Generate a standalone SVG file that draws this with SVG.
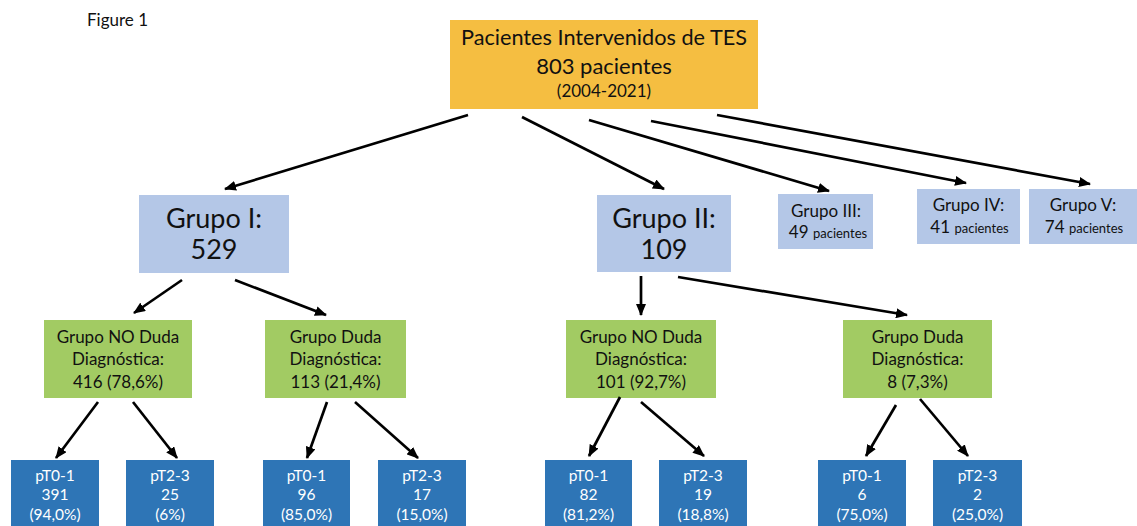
<svg xmlns="http://www.w3.org/2000/svg" width="1137" height="526" viewBox="0 0 1137 526">
  <style>
    text { font-family: Lato, "Open Sans", "Liberation Sans", sans-serif; fill: #111; text-anchor: middle; }
    .top { fill: #F5BE41; }
    .grp { fill: #B4C7E7; }
    .sub { fill: #A2CB63; }
    .leaf { fill: #2E75B6; }
    .leaf text { fill: #fff; font-size: 15.5px; }
    .sub text { font-size: 17px; }
    .big { font-size: 27px; }
    .mid { font-size: 17px; }
    .sm { font-size: 13px; }
    .conn line { stroke: #000; stroke-width: 2.7; marker-end: url(#arrow); }
  </style>
  <defs>
    <marker id="arrow" viewBox="0 0 12 10" refX="11" refY="5" markerWidth="12" markerHeight="10" markerUnits="userSpaceOnUse" orient="auto">
      <path d="M0,0 L12,5 L0,10 z" fill="#000"/>
    </marker>
  </defs>
  <rect width="1137" height="526" fill="#fff"/>

  <text x="87" y="26" style="text-anchor:start;font-size:17px">Figure 1</text>

  <!-- root -->
  <g id="root">
    <rect class="top" x="450" y="20" width="308" height="89"/>
    <text x="604" y="45" style="font-size:21.7px">Pacientes Intervenidos de TES</text>
    <text x="604" y="74" style="font-size:22px">803 pacientes</text>
    <text x="604" y="97" style="font-size:17px">(2004-2021)</text>
  </g>

  <!-- first level groups -->
  <g id="grupo-1">
    <rect class="grp" x="139" y="195" width="150" height="78"/>
    <text class="big" x="214" y="228">Grupo I:</text>
    <text class="big" x="214" y="259">529</text>
  </g>
  <g id="grupo-2">
    <rect class="grp" x="597" y="195" width="134" height="77"/>
    <text class="big" x="664" y="228">Grupo II:</text>
    <text class="big" x="664" y="259">109</text>
  </g>
  <g id="grupo-3">
    <rect class="grp" x="778" y="194" width="95" height="55"/>
    <text class="mid" x="826" y="217">Grupo III:</text>
    <text class="mid" x="828" y="238">49 <tspan class="sm">pacientes</tspan></text>
  </g>
  <g id="grupo-4">
    <rect class="grp" x="917" y="189" width="103" height="55"/>
    <text class="mid" x="968.5" y="211">Grupo IV:</text>
    <text class="mid" x="969.5" y="233">41 <tspan class="sm">pacientes</tspan></text>
  </g>
  <g id="grupo-5">
    <rect class="grp" x="1029" y="189" width="108" height="55"/>
    <text class="mid" x="1083" y="211">Grupo V:</text>
    <text class="mid" x="1084" y="233">74 <tspan class="sm">pacientes</tspan></text>
  </g>

  <!-- diagnostic doubt subgroups -->
  <g id="g1-no-duda" class="sub">
    <rect x="44" y="320" width="148" height="78"/>
    <text x="118" y="343">Grupo NO Duda</text>
    <text x="118" y="365">Diagnóstica:</text>
    <text x="118" y="388">416 (78,6%)</text>
  </g>
  <g id="g1-duda" class="sub">
    <rect x="265" y="320" width="141" height="78"/>
    <text x="335.5" y="343">Grupo Duda</text>
    <text x="335.5" y="365">Diagnóstica:</text>
    <text x="335.5" y="388">113 (21,4%)</text>
  </g>
  <g id="g2-no-duda" class="sub">
    <rect x="566" y="320" width="150" height="78"/>
    <text x="641" y="343">Grupo NO Duda</text>
    <text x="641" y="365">Diagnóstica:</text>
    <text x="641" y="388">101 (92,7%)</text>
  </g>
  <g id="g2-duda" class="sub">
    <rect x="843" y="320" width="149" height="78"/>
    <text x="917.5" y="343">Grupo Duda</text>
    <text x="917.5" y="365">Diagnóstica:</text>
    <text x="917.5" y="388">8 (7,3%)</text>
  </g>

  <!-- pathological stage leaves -->
  <g id="g1-no-pt01" class="leaf">
    <rect x="11" y="460" width="88" height="70"/>
    <text x="55" y="481">pT0-1</text><text x="55" y="500">391</text><text x="55" y="520">(94,0%)</text>
  </g>
  <g id="g1-no-pt23" class="leaf">
    <rect x="126" y="460" width="88" height="70"/>
    <text x="170" y="481">pT2-3</text><text x="170" y="500">25</text><text x="170" y="520">(6%)</text>
  </g>
  <g id="g1-duda-pt01" class="leaf">
    <rect x="263" y="460" width="87" height="70"/>
    <text x="306.5" y="481">pT0-1</text><text x="306.5" y="500">96</text><text x="306.5" y="520">(85,0%)</text>
  </g>
  <g id="g1-duda-pt23" class="leaf">
    <rect x="378" y="460" width="88" height="70"/>
    <text x="422" y="481">pT2-3</text><text x="422" y="500">17</text><text x="422" y="520">(15,0%)</text>
  </g>
  <g id="g2-no-pt01" class="leaf">
    <rect x="545" y="460" width="87" height="70"/>
    <text x="588.5" y="481">pT0-1</text><text x="588.5" y="500">82</text><text x="588.5" y="520">(81,2%)</text>
  </g>
  <g id="g2-no-pt23" class="leaf">
    <rect x="659" y="460" width="88" height="70"/>
    <text x="703" y="481">pT2-3</text><text x="703" y="500">19</text><text x="703" y="520">(18,8%)</text>
  </g>
  <g id="g2-duda-pt01" class="leaf">
    <rect x="818" y="460" width="88" height="70"/>
    <text x="862" y="481">pT0-1</text><text x="862" y="500">6</text><text x="862" y="520">(75,0%)</text>
  </g>
  <g id="g2-duda-pt23" class="leaf">
    <rect x="933" y="460" width="89" height="70"/>
    <text x="977.5" y="481">pT2-3</text><text x="977.5" y="500">2</text><text x="977.5" y="520">(25,0%)</text>
  </g>

  <!-- connectors -->
  <g id="connectors" class="conn">
    <line x1="468" y1="115" x2="225" y2="189"/>
    <line x1="522" y1="117" x2="664" y2="189"/>
    <line x1="589" y1="120" x2="829" y2="191"/>
    <line x1="651" y1="121" x2="966" y2="183"/>
    <line x1="717" y1="115" x2="1090" y2="184"/>

    <line x1="182" y1="280" x2="134" y2="313"/>
    <line x1="235" y1="280" x2="326" y2="315"/>
    <line x1="641" y1="276" x2="641" y2="315"/>
    <line x1="678" y1="277" x2="907" y2="315"/>

    <line x1="98" y1="402" x2="56" y2="458"/>
    <line x1="133" y1="402" x2="177" y2="458"/>
    <line x1="327" y1="402" x2="307" y2="458"/>
    <line x1="355" y1="402" x2="418" y2="458"/>
    <line x1="620" y1="397" x2="589" y2="456"/>
    <line x1="641" y1="402" x2="704" y2="456"/>
    <line x1="896" y1="405" x2="866" y2="456"/>
    <line x1="920" y1="399" x2="968" y2="456"/>
  </g>
</svg>
